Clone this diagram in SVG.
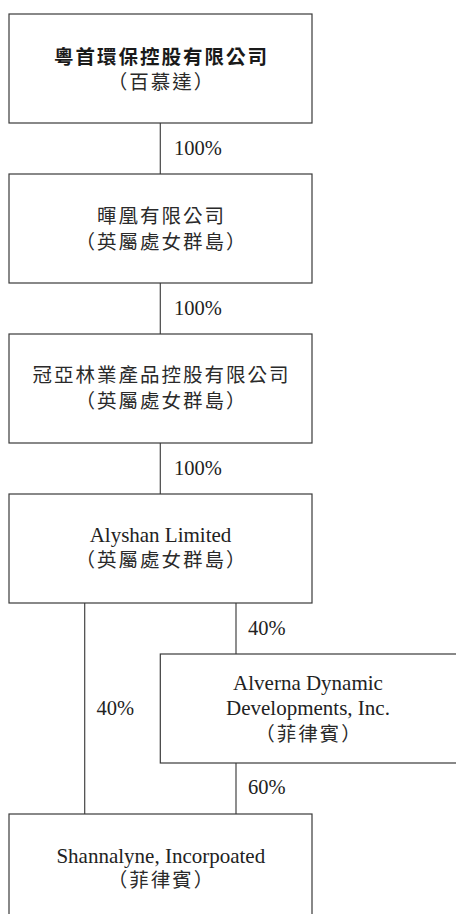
<svg xmlns="http://www.w3.org/2000/svg" width="456" height="914" viewBox="0 0 456 914">
<style>
.box{fill:#fff;stroke:#3a3a3a;stroke-width:1.2}
.ln{stroke:#444;stroke-width:1.2;fill:none}
.cjk{font-family:"Liberation Serif","Noto Sans CJK TC",serif;font-size:19.5px;letter-spacing:2px;fill:#2a2a2a;text-anchor:middle}
.cjkb{font-family:"Noto Sans CJK TC",sans-serif;font-size:19.5px;font-weight:bold;letter-spacing:2px;fill:#1a1a1a;text-anchor:middle}
.lat{font-family:"Liberation Serif",serif;font-size:21px;fill:#222;text-anchor:middle}
.pct{font-family:"Liberation Serif",serif;font-size:20.5px;fill:#222}
</style>
<rect width="456" height="914" fill="#fff"/>
<g id="connectors">
<line class="ln" x1="160.3" y1="123" x2="160.3" y2="174"/>
<line class="ln" x1="160.3" y1="283" x2="160.3" y2="334"/>
<line class="ln" x1="160.3" y1="443" x2="160.3" y2="494"/>
<line class="ln" x1="84.7" y1="603" x2="84.7" y2="814"/>
<line class="ln" x1="236" y1="603" x2="236" y2="654"/>
<line class="ln" x1="236" y1="763" x2="236" y2="814"/>
<text class="pct" x="174" y="155">100%</text>
<text class="pct" x="174" y="315">100%</text>
<text class="pct" x="174" y="475">100%</text>
<text class="pct" x="248" y="635">40%</text>
<text class="pct" x="96.5" y="715">40%</text>
<text class="pct" x="248" y="794">60%</text>
</g>
<g id="node1">
<rect class="box" x="9" y="14" width="303" height="109"/>
<text class="cjkb" x="161.5" y="63.5">粵首環保控股有限公司</text>
<text class="cjk" x="161.5" y="88.5">（百慕達）</text>
</g>
<g id="node2">
<rect class="box" x="9" y="174" width="303" height="109"/>
<text class="cjk" x="161.5" y="223">暉凰有限公司</text>
<text class="cjk" x="161.5" y="248.5">（英屬處女群島）</text>
</g>
<g id="node3">
<rect class="box" x="9" y="334" width="303" height="109"/>
<text class="cjk" x="161.5" y="382">冠亞林業產品控股有限公司</text>
<text class="cjk" x="161.5" y="407.5">（英屬處女群島）</text>
</g>
<g id="node4">
<rect class="box" x="9" y="494" width="303" height="109"/>
<text class="lat" x="160.5" y="541.5">Alyshan Limited</text>
<text class="cjk" x="161.5" y="567">（英屬處女群島）</text>
</g>
<g id="node5">
<rect class="box" x="160.3" y="654" width="320" height="109"/>
<text class="lat" x="308" y="689.5">Alverna Dynamic</text>
<text class="lat" x="308" y="715">Developments, Inc.</text>
<text class="cjk" x="309" y="740.5">（菲律賓）</text>
</g>
<g id="node6">
<rect class="box" x="9" y="814" width="303" height="120"/>
<text class="lat" x="160.8" y="862.5">Shannalyne, Incorpoated</text>
<text class="cjk" x="161.5" y="887">（菲律賓）</text>
</g>
</svg>
